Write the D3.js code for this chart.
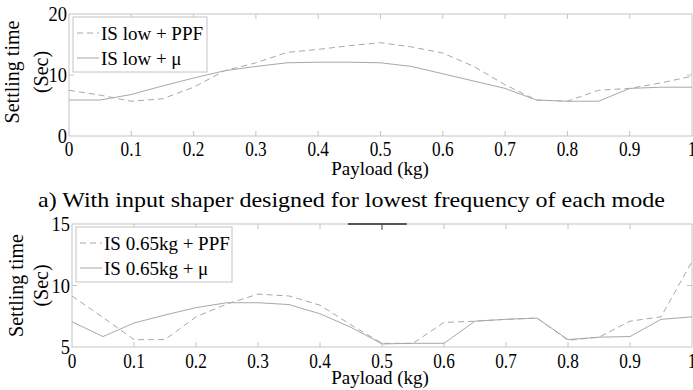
<!DOCTYPE html>
<html>
<head>
<meta charset="utf-8">
<script src="https://cdn.jsdelivr.net/npm/d3@7"></script>
<style>
  body { margin: 0; background: #fff; }
</style>
</head>
<body>
<div id="vis"></div>
<script>
// payload values shared by both panels
var payload = [0, 0.05, 0.1, 0.15, 0.2, 0.25, 0.3, 0.35, 0.4, 0.45, 0.5,
               0.55, 0.6, 0.65, 0.7, 0.75, 0.8, 0.85, 0.9, 0.95, 1];

// panel a: shaper designed for lowest frequency
var lowPPF = [7.5, 6.7, 5.7, 6.1, 8.0, 10.7, 12.0, 13.7, 14.2, 14.8, 15.3,
              14.6, 13.6, 11.4, 8.4, 5.9, 5.7, 7.5, 7.8, 8.7, 9.8];
var lowMu  = [5.9, 5.9, 6.8, 8.2, 9.5, 10.7, 11.4, 12.0, 12.1, 12.1, 12.0,
              11.4, 10.2, 9.0, 7.8, 5.9, 5.7, 5.7, 7.8, 8.0, 8.0];

// panel b: shaper designed for 0.65 kg
var midPPF = [9.15, 7.4, 5.6, 5.6, 7.45, 8.5, 9.3, 9.15, 8.4, 6.8, 5.3,
              5.3, 7.0, 7.1, 7.25, 7.35, 5.55, 5.8, 7.1, 7.45, 11.95];
var midMu  = [7.05, 5.85, 6.95, 7.6, 8.2, 8.6, 8.6, 8.45, 7.7, 6.6, 5.25,
              5.3, 5.3, 7.1, 7.25, 7.35, 5.6, 5.8, 5.85, 7.25, 7.45];

var xTicks = [0, 0.1, 0.2, 0.3, 0.4, 0.5, 0.6, 0.7, 0.8, 0.9, 1];
var xTickLabels = ["0", "0.1", "0.2", "0.3", "0.4", "0.5", "0.6", "0.7", "0.8", "0.9", "1"];

var w = 693, h = 390;
var font = "'Liberation Serif'";
var svg = d3.select("#vis").append("svg")
    .attr("width", w)
    .attr("height", h);

var lineCol = "#a8a8a8", boxCol = "#c4c4c4";

function txt(sel, size) {
    return sel.style("font-family", font).style("font-size", size + "px").attr("fill", "#000");
}
// squeeze the digits a bit, the source font is narrower than Times
function squeeze(sel, k) {
    sel.each(function() {
        var len = this.getComputedTextLength();
        d3.select(this).attr("textLength", len * k).attr("lengthAdjust", "spacingAndGlyphs");
    });
}

function panel(opt) {
    var x = d3.scaleLinear().domain([0, 1]).range([opt.left, opt.right]);
    var y = d3.scaleLinear().domain(opt.yDomain).range([opt.bottom, opt.top]);
    var g = svg.append("g");

    // frame
    g.append("rect")
        .attr("x", opt.left).attr("y", opt.top)
        .attr("width", opt.right - opt.left).attr("height", opt.bottom - opt.top)
        .attr("fill", "none").attr("stroke", boxCol).attr("stroke-width", 1);

    // inward ticks, top and bottom
    xTicks.slice(1, -1).forEach(function(t) {
        g.append("line").attr("x1", x(t)).attr("x2", x(t))
            .attr("y1", opt.bottom).attr("y2", opt.bottom - 5)
            .attr("stroke", boxCol);
        g.append("line").attr("x1", x(t)).attr("x2", x(t))
            .attr("y1", opt.top).attr("y2", opt.top + 5)
            .attr("stroke", boxCol);
    });
    opt.yTicks.slice(1, -1).forEach(function(t) {
        g.append("line").attr("x1", opt.left).attr("x2", opt.left + 5)
            .attr("y1", y(t)).attr("y2", y(t)).attr("stroke", boxCol);
        g.append("line").attr("x1", opt.right).attr("x2", opt.right - 5)
            .attr("y1", y(t)).attr("y2", y(t)).attr("stroke", boxCol);
    });

    // tick labels
    var xl = txt(g.selectAll(".xl").data(xTicks).enter().append("text"), 21)
        .attr("x", function(d) { return x(d); })
        .attr("y", opt.bottom + opt.xlOff)
        .attr("text-anchor", "middle")
        .text(function(d, i) { return xTickLabels[i]; });
    squeeze(xl, 0.82);
    var yl = txt(g.selectAll(".yl").data(opt.yTicks).enter().append("text"), 21)
        .attr("x", opt.left - 2)
        .attr("y", function(d) { return y(d) + 7; })
        .attr("text-anchor", "end")
        .text(function(d) { return d; });
    squeeze(yl, 0.88);

    // axis titles
    txt(g.append("text"), 19)
        .attr("x", 380).attr("y", opt.bottom + opt.xtOff)
        .attr("text-anchor", "middle")
        .text("Payload (kg)");
    var cy = (opt.top + opt.bottom) / 2 + opt.labelShift;
    txt(g.append("text"), 20)
        .attr("transform", "translate(" + opt.ylx[0] + "," + cy + ") rotate(-90)")
        .attr("text-anchor", "middle")
        .text("Settling time");
    txt(g.append("text"), 20)
        .attr("transform", "translate(" + opt.ylx[1] + "," + cy + ") rotate(-90)")
        .attr("text-anchor", "middle")
        .text("(Sec)");

    // series
    var line = d3.line()
        .x(function(d, i) { return x(payload[i]); })
        .y(function(d) { return y(d); });
    g.append("path").datum(opt.ppf)
        .attr("d", line).attr("fill", "none")
        .attr("stroke", lineCol).attr("stroke-width", 1)
        .attr("stroke-dasharray", "6,4");
    g.append("path").datum(opt.mu)
        .attr("d", line).attr("fill", "none")
        .attr("stroke", lineCol).attr("stroke-width", 1);

    // legend
    var lg = g.append("g");
    lg.append("rect")
        .attr("x", opt.lx).attr("y", opt.ly)
        .attr("width", opt.lw).attr("height", 55)
        .attr("fill", "#fff").attr("stroke", boxCol);
    opt.names.forEach(function(n, i) {
        var yy = opt.ly + 16 + i * 25;
        lg.append("line")
            .attr("x1", opt.lx + 4).attr("x2", opt.lx + 26)
            .attr("y1", yy).attr("y2", yy)
            .attr("stroke", lineCol)
            .attr("stroke-dasharray", i === 0 ? "6,4" : null);
        txt(lg.append("text"), 19)
            .attr("x", opt.lx + 28).attr("y", yy + 7)
            .text(n);
    });
    return { x: x, y: y, g: g };
}

panel({
    left: 69, right: 692, top: 14, bottom: 136,
    yDomain: [0, 20], yTicks: [0, 10, 20],
    ppf: lowPPF, mu: lowMu,
    names: ["IS low + PPF", "IS low + \u03bc"],
    lx: 73, ly: 17, lw: 134,
    xlOff: 20, xtOff: 39,
    ylx: [19, 48], labelShift: -3
});

var b = panel({
    left: 72, right: 692, top: 224, bottom: 347,
    yDomain: [5, 15], yTicks: [5, 10, 15],
    ppf: midPPF, mu: midMu,
    names: ["IS 0.65kg + PPF", "IS 0.65kg + \u03bc"],
    lx: 76, ly: 227, lw: 156,
    xlOff: 21, xtOff: 37,
    ylx: [23, 48], labelShift: 0
});

// small dark mark on the top edge of panel b (present in the source figure)
b.g.append("line")
    .attr("x1", b.x(0.445)).attr("x2", b.x(0.54))
    .attr("y1", 224).attr("y2", 224)
    .attr("stroke", "#555").attr("stroke-width", 2);
b.g.append("line")
    .attr("x1", b.x(0.5)).attr("x2", b.x(0.5))
    .attr("y1", 224).attr("y2", 230)
    .attr("stroke", "#555").attr("stroke-width", 1);

// caption between panels
txt(svg.append("text"), 22)
    .attr("x", 38).attr("y", 207)
    .attr("textLength", 627).attr("lengthAdjust", "spacingAndGlyphs")
    .text("a) With input shaper designed for lowest frequency of each mode");
</script>
</body>
</html>
